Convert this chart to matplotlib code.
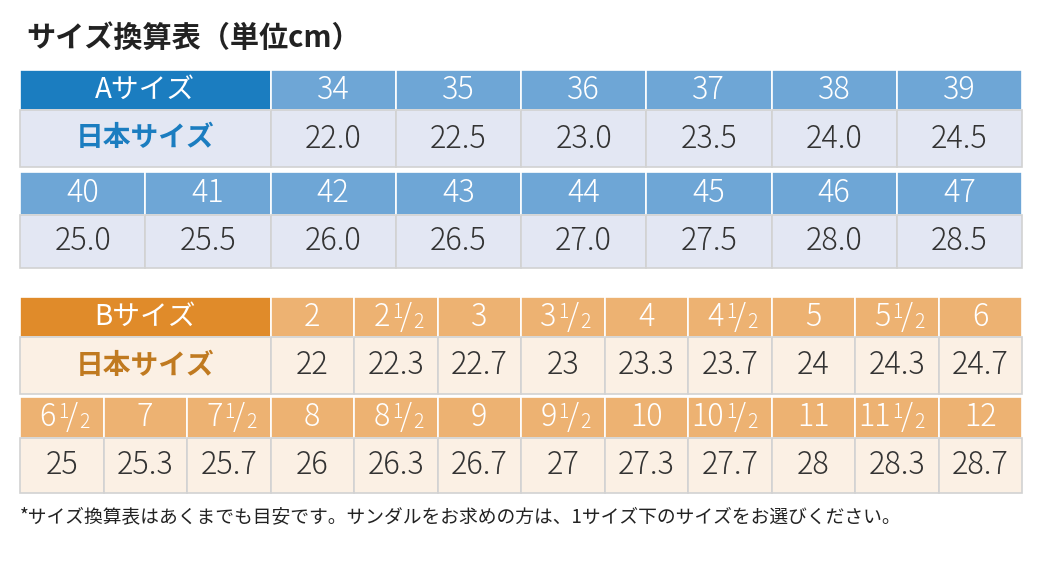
import matplotlib
matplotlib.use("Agg")
import matplotlib.pyplot as plt
from matplotlib.patches import Rectangle

plt.rcParams['font.family'] = ['Noto Sans CJK JP', 'DejaVu Sans']

title = "サイズ換算表（単位cm）"
note = "*サイズ換算表はあくまでも目安です。サンダルをお求めの方は、1サイズ下のサイズをお選びください。"
a_label = "Aサイズ"
jp_label = "日本サイズ"
b_label = "Bサイズ"
a_sizes = ["34", "35", "36", "37", "38", "39", "40", "41", "42", "43", "44", "45", "46", "47"]
a_jp = ["22.0", "22.5", "23.0", "23.5", "24.0", "24.5", "25.0", "25.5", "26.0", "26.5", "27.0", "27.5", "28.0", "28.5"]
b_sizes = ["2", "2h", "3", "3h", "4", "4h", "5", "5h", "6", "6h", "7", "7h", "8", "8h", "9", "9h",
           "10", "10h", "11", "11h", "12"]
b_jp = ["22", "22.3", "22.7", "23", "23.3", "23.7", "24", "24.3", "24.7", "25", "25.3", "25.7",
        "26", "26.3", "26.7", "27", "27.3", "27.7", "28", "28.3", "28.7"]

fig = plt.figure(figsize=(10.5, 5.63), dpi=100)
ax = fig.add_axes([0, 0, 1, 1])
ax.set_xlim(0, 1050); ax.set_ylim(563, 0); ax.axis('off')

BLUE_D, BLUE_H, BLUE_V = "#1b7dc0", "#6ea6d6", "#e3e7f3"
OR_D, OR_H, OR_V = "#e08b2a", "#edb272", "#fbf0e4"
TXT = "#333333"
X0, X1 = 20, 1022
FS = 22

def cell(x, y, w, h, fc, ec):
    ax.add_patch(Rectangle((x, y), w, h, facecolor=fc, edgecolor=ec, lw=1.2))

def size_text(x, y, s):
    if s.endswith("h"):
        n = s[:-1]
        ax.text(x - 6, y, n, ha='right', va='center', fontsize=FS, color='white', fontweight='light')
        ax.text(x - 4, y - 5, "1", ha='left', va='center', fontsize=14, color='white', fontweight='light')
        ax.text(x + 4, y, "/", ha='left', va='center', fontsize=FS, color='white', fontweight='light')
        ax.text(x + 17, y + 5, "2", ha='left', va='center', fontsize=14, color='white', fontweight='light')
    else:
        ax.text(x, y, s, ha='center', va='center', fontsize=FS, color='white', fontweight='light')

def table(sizes, jp, ncols, lspan, ys, dark, head, val, lcol, lab):
    w = (X1 - X0) / ncols
    n1 = ncols - lspan
    (h1, h1b), (v1, v1b), (h2, h2b), (v2, v2b) = ys
    cell(X0, h1, w * lspan, h1b - h1, dark, 'white')
    ax.text(X0 + w * lspan / 2, (h1 + h1b) / 2, lab, ha='center', va='center', fontsize=20, color='white')
    cell(X0, v1, w * lspan, v1b - v1, val, '#d2d2d2')
    ax.text(X0 + w * lspan / 2, (v1 + v1b) / 2, jp_label, ha='center', va='center',
            fontsize=20, color=lcol, fontweight='bold')
    for i in range(n1):
        x = X0 + w * (lspan + i)
        cell(x, h1, w, h1b - h1, head, 'white')
        size_text(x + w / 2, (h1 + h1b) / 2, sizes[i])
        cell(x, v1, w, v1b - v1, val, '#d2d2d2')
        ax.text(x + w / 2, (v1 + v1b) / 2, jp[i], ha='center', va='center', fontsize=FS, color=TXT, fontweight='light')
    for i in range(ncols):
        x = X0 + w * i
        cell(x, h2, w, h2b - h2, head, 'white')
        size_text(x + w / 2, (h2 + h2b) / 2, sizes[n1 + i])
        cell(x, v2, w, v2b - v2, val, '#d2d2d2')
        ax.text(x + w / 2, (v2 + v2b) / 2, jp[n1 + i], ha='center', va='center', fontsize=FS, color=TXT, fontweight='light')

table(a_sizes, a_jp, 8, 2, [(70, 110), (110, 167), (172, 215), (215, 268)], BLUE_D, BLUE_H, BLUE_V, BLUE_D, a_label)
table(b_sizes, b_jp, 12, 3, [(297, 337), (337, 394), (397, 438), (438, 493)], OR_D, OR_H, OR_V, "#c07a20", b_label)

ax.text(26, 38, title, ha='left', va='center', fontsize=21, fontweight='bold', color='#222222')
ax.text(20, 517, note, ha='left', va='center', fontsize=13.5, color='#222222')

fig.savefig("out.png", dpi=100)
